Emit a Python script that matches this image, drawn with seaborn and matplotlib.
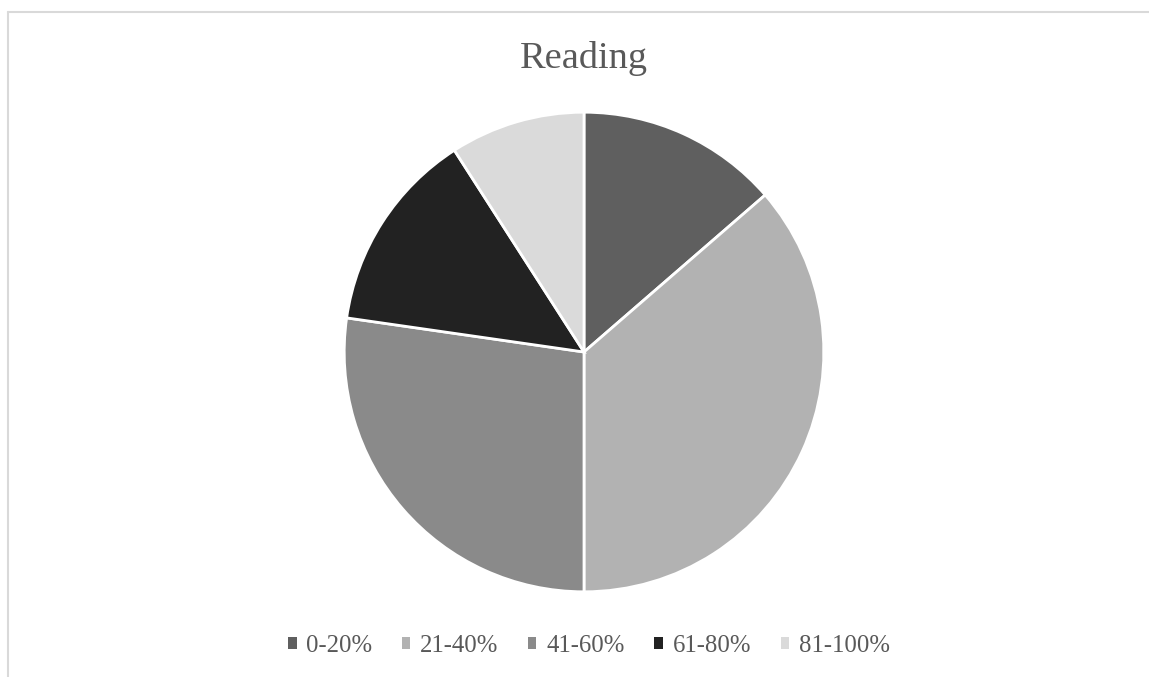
import matplotlib
matplotlib.use("Agg")
import matplotlib.pyplot as plt
import matplotlib.patches as mpatches
from matplotlib.lines import Line2D
import seaborn as sns

# Reading score bands and number of students in each
categories = ["0-20%", "21-40%", "41-60%", "61-80%", "81-100%"]
counts = [3, 8, 6, 3, 2]
colors = ["#5f5f5f", "#b2b2b2", "#8a8a8a", "#222222", "#dadada"]

sns.set_theme(style="white")
plt.rcParams["font.family"] = ["Liberation Serif", "DejaVu Serif"]

W, H = 1149, 677
fig = plt.figure(figsize=(W / 100, H / 100), dpi=100)

# chart-area frame (top and left edges fall inside the image)
fig.add_artist(Line2D([7.5 / W, 1.0], [1 - 12 / H, 1 - 12 / H],
                      transform=fig.transFigure, color="#d9d9d9", linewidth=1.5))
fig.add_artist(Line2D([7.5 / W, 7.5 / W], [0.0, 1 - 12 / H],
                      transform=fig.transFigure, color="#d9d9d9", linewidth=1.5))

cx, cy, r = 584, 352, 241
ax = fig.add_axes([(cx - r) / W, (H - cy - r) / H, 2 * r / W, 2 * r / H])
wedges, _ = ax.pie(counts, colors=colors, startangle=90, counterclock=False,
                   radius=1.0,
                   wedgeprops=dict(edgecolor="white", linewidth=2))
ax.set_xlim(-1.005, 1.005)
ax.set_ylim(-1.005, 1.005)
ax.set_aspect("equal")
ax.axis("off")

fig.text(583.5 / W, 1 - 68 / H, "Reading", ha="center", va="baseline",
         fontsize=27.6, color="#595959")

handles = [mpatches.Patch(facecolor=c, edgecolor="none") for c in colors]
leg = fig.legend(handles, categories, loc="center", ncol=5,
                 bbox_to_anchor=(589 / W, 1 - 646 / H), frameon=False,
                 fontsize=17.8, handlelength=0.33, handleheight=0.33,
                 handletextpad=0.4, columnspacing=1.2, labelcolor="#595959",
                 borderpad=0, borderaxespad=0)

fig.savefig("out.png", dpi=100, facecolor="white")
